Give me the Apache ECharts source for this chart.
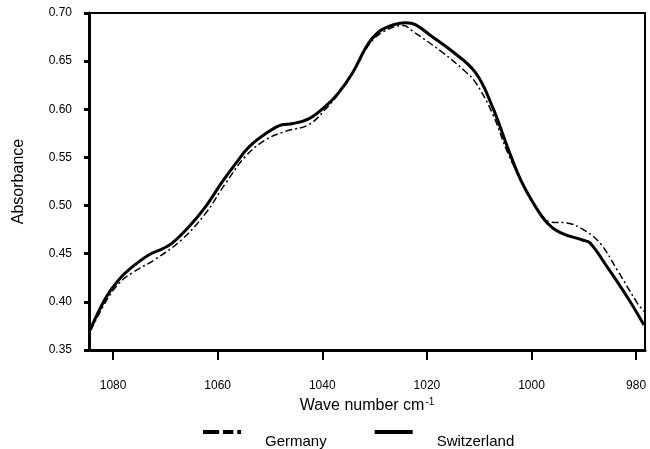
<!DOCTYPE html>
<html>
<head>
<meta charset="utf-8">
<script src="https://cdn.jsdelivr.net/npm/echarts@6/dist/echarts.min.js"></script>
<style>
  html, body { margin: 0; padding: 0; background: #fff; }
  #chart { width: 650px; height: 449px; }
</style>
</head>
<body>
<div id="chart"></div>
<script>
// wave number (cm-1) / absorbance pairs
const switzerland = [
    [1084.3, 0.372], [1081.3, 0.405], [1078.9, 0.423], [1076.4, 0.436],
    [1073.1, 0.449], [1070.6, 0.455], [1068.7, 0.461], [1065.5, 0.478],
    [1062.3, 0.499], [1059.2, 0.524], [1056.5, 0.544], [1054.0, 0.561],
    [1050.2, 0.577], [1047.7, 0.584], [1045.8, 0.585], [1042.6, 0.590],
    [1039.4, 0.603], [1036.9, 0.617], [1034.2, 0.638], [1031.1, 0.669],
    [1028.5, 0.683], [1024.1, 0.690], [1022.2, 0.688], [1018.9, 0.675],
    [1015.1, 0.660], [1010.7, 0.638], [1007.5, 0.603], [1004.4, 0.558],
    [1002.1, 0.527], [999.7, 0.503], [997.0, 0.482], [994.5, 0.472],
    [990.1, 0.464], [988.8, 0.461], [985.5, 0.436], [981.7, 0.405],
    [978.5, 0.376]
];
const germany = [
    [1084.3, 0.370], [1081.3, 0.401], [1078.9, 0.419], [1076.4, 0.430],
    [1072.0, 0.444], [1067.0, 0.464], [1062.3, 0.492], [1058.5, 0.523],
    [1054.7, 0.551], [1050.9, 0.568], [1047.1, 0.577], [1042.6, 0.584],
    [1039.4, 0.600], [1036.9, 0.616], [1034.2, 0.637], [1031.1, 0.667],
    [1028.5, 0.680], [1024.5, 0.687], [1022.7, 0.681], [1017.0, 0.659],
    [1012.6, 0.639], [1010.7, 0.628], [1007.5, 0.596], [1004.4, 0.553],
    [1001.5, 0.522], [998.8, 0.496], [996.4, 0.483], [993.2, 0.482],
    [990.1, 0.475], [986.9, 0.461], [983.6, 0.433], [979.8, 0.399],
    [978.5, 0.390]
];
const xTicks = [980, 1000, 1020, 1040, 1060, 1080];

// legend swatches: broken line for Germany, solid bar for Switzerland
const dashIcon = 'path://M0,0L17,0L17,4L0,4ZM21,0L32,0L32,4L21,4ZM36,0L40,0L40,4L36,4Z';
const solidIcon = 'path://M0,0L40,0L40,4L0,4Z';

const chart = echarts.init(document.getElementById('chart'));

const option = {
    animation: false,
    textStyle: { fontFamily: 'Liberation Sans, Arial, sans-serif', color: '#000' },
    grid: {
        left: 89, right: 5, top: 13, bottom: 99,
        show: true, borderColor: '#000', borderWidth: 2
    },
    legend: {
        top: 412,
        left: 203,
        padding: 0,
        itemWidth: 38,
        itemHeight: 4,
        itemGap: 48,
        data: [
            { name: 'Germany', icon: dashIcon },
            { name: 'Switzerland', icon: solidIcon }
        ],
        itemStyle: { color: '#000' },
        // empty first line pushes the name below the swatch, as in the original
        formatter: function(name) { return '\n' + name; },
        textStyle: { fontSize: 15, lineHeight: 20, color: '#000', padding: [0, 0, 0, 19] }
    },
    xAxis: {
        type: 'value',
        inverse: true,
        min: 978.3,
        max: 1084.6,
        name: 'Wave number cm{sup|-1}',
        nameLocation: 'middle',
        nameGap: 44,
        nameTextStyle: {
            fontSize: 16, color: '#000',
            rich: { sup: { fontSize: 10, verticalAlign: 'top', padding: [0, 0, 8, 1] } }
        },
        splitLine: { show: false },
        axisLine: { lineStyle: { color: '#000', width: 3 } },
        axisTick: {
            customValues: xTicks, length: 10, inside: false,
            lineStyle: { color: '#000', width: 2 }
        },
        axisLabel: {
            customValues: xTicks, margin: 30, fontSize: 12, color: '#000',
            formatter: function(v) { return String(v); }
        }
    },
    yAxis: {
        type: 'value',
        min: 0.35,
        max: 0.70,
        interval: 0.05,
        name: 'Absorbance',
        nameLocation: 'middle',
        nameGap: 62,
        nameTextStyle: { fontSize: 16, color: '#000' },
        splitLine: { show: false },
        axisLine: { lineStyle: { color: '#000', width: 3 } },
        axisTick: { length: 5, lineStyle: { color: '#000', width: 3 } },
        axisLabel: {
            margin: 17, fontSize: 12, color: '#000',
            formatter: function(v) { return v.toFixed(2); }
        }
    },
    series: [
        {
            name: 'Germany',
            type: 'line',
            data: germany,
            smooth: 0.4,
            symbol: 'none',
            lineStyle: { color: '#000', width: 1.5, type: [7, 3, 2, 3] },
            itemStyle: { color: '#000' },
            z: 3
        },
        {
            name: 'Switzerland',
            type: 'line',
            data: switzerland,
            smooth: 0.4,
            symbol: 'none',
            lineStyle: { color: '#000', width: 3 },
            itemStyle: { color: '#000' },
            z: 2
        }
    ]
};

chart.setOption(option);
</script>
</body>
</html>
